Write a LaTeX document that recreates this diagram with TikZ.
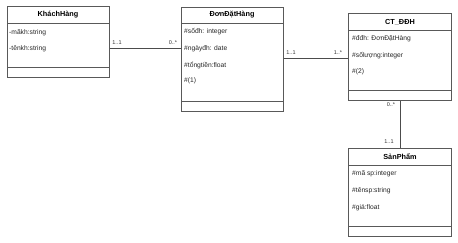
\documentclass[tikz,border=0pt]{standalone}
\usepackage{fontspec}
\setmainfont{Liberation Sans}
\begin{document}
\begin{tikzpicture}[x=1pt,y=-1pt,
 box/.style={draw=black!65, line width=0.6pt, fill=white, inner sep=0pt, anchor=north west},
 sep/.style={draw=black!65, line width=0.6pt},
 hdr/.style={font=\fontsize{7.3}{8}\selectfont\bfseries, text=black, inner sep=0pt},
 attr/.style={font=\fontsize{6.7}{8}\selectfont, text=black!85, anchor=west, inner sep=0pt},
 conn/.style={draw=black!70, line width=0.6pt},
 mult/.style={font=\fontsize{5.5}{6}\selectfont, text=black!80, inner sep=0pt}]
\useasboundingbox[fill=white] (0,0) rectangle (458,243);

% KhachHang
\node[box, minimum width=102pt, minimum height=71pt] (kh) at (7,6) {};
\draw[sep] (7,23) -- (109,23);
\draw[sep] (7,67) -- (109,67);
\node[hdr] (khT) at (58,15) {KháchHàng};
\node[attr] (kh1) at (9,33) {-mãkh:string};
\node[attr] (kh2) at (9,49) {-tênkh:string};

% DonDatHang
\node[box, minimum width=102pt, minimum height=104pt] (ddh) at (181,7) {};
\draw[sep] (181,23) -- (283,23);
\draw[sep] (181,101) -- (283,101);
\node[hdr] (ddhT) at (232,15) {ĐơnĐặtHàng};
\node[attr] (ddh1) at (184,32) {\#sốđh: integer};
\node[attr] (ddh2) at (184,49) {\#ngàyđh: date};
\node[attr] (ddh3) at (184,65) {\#tổngtiền:float};
\node[attr] (ddh4) at (184,81) {\#(1)};

% CT_DDH
\node[box, minimum width=103pt, minimum height=87pt] (ct) at (348,13) {};
\draw[sep] (348,30) -- (451,30);
\draw[sep] (348,90) -- (451,90);
\node[hdr] (ctT) at (400,22) {CT\_ĐĐH};
\node[attr] (ct1) at (352,39) {\#đđh: ĐơnĐặtHàng};
\node[attr] (ct2) at (352,56) {\#sốlượng:integer};
\node[attr] (ct3) at (352,72) {\#(2)};

% SanPham
\node[box, minimum width=103pt, minimum height=88pt] (sp) at (348,148) {};
\draw[sep] (348,165) -- (451,165);
\draw[sep] (348,226) -- (451,226);
\node[hdr] (spT) at (400,157) {SảnPhẩm};
\node[attr] (sp1) at (352,174) {\#mã sp:integer};
\node[attr] (sp2) at (352,191) {\#tênsp:string};
\node[attr] (sp3) at (352,208) {\#giá:float};

% connectors
\draw[conn] (kh.east |- 0,48) -- (ddh.west |- 0,48);
\draw[conn] (ddh.east |- 0,58) -- (ct.west |- 0,58);
\draw[conn] (ct.south -| 400,0) -- (sp.north -| 400,0);

% multiplicities
\node[mult] (m1) at (117,43) {1..1};
\node[mult] (m2) at (173,43) {0..*};
\node[mult] (m3) at (291,53) {1..1};
\node[mult] (m4) at (338,53) {1..*};
\node[mult] (m5) at (391,105) {0..*};
\node[mult] (m6) at (389,142) {1..1};
\end{tikzpicture}
\end{document}
